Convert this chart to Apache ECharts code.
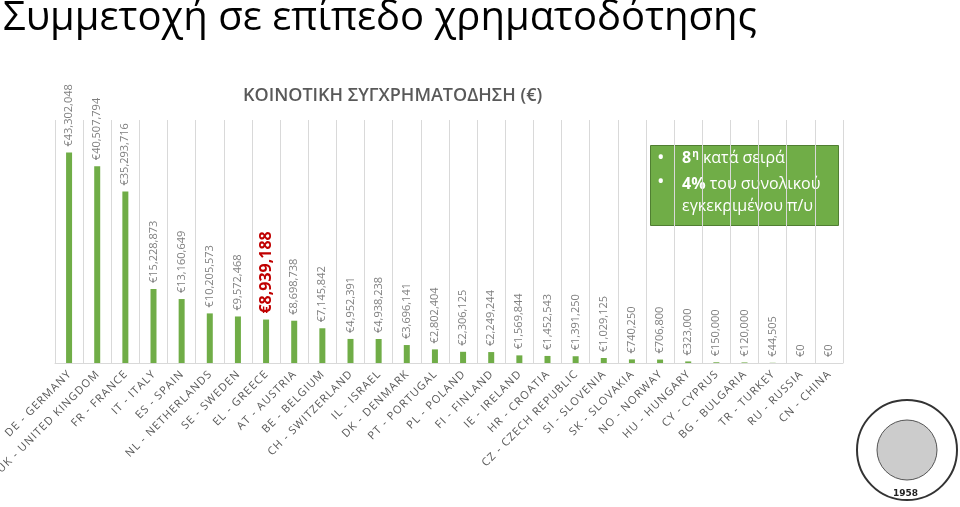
<!DOCTYPE html>
<html><head><meta charset="utf-8">
<script src="https://cdn.jsdelivr.net/npm/echarts@6/dist/echarts.min.js"></script>
<style>html,body{margin:0;background:#fff}#c{width:960px;height:507px}</style>
</head><body><div id="c"></div>
<script>
// κοινοτική συγχρηματοδότηση ανά χώρα
const countries = ['DE - GERMANY','UK - UNITED KINGDOM','FR - FRANCE','IT - ITALY','ES - SPAIN','NL - NETHERLANDS','SE - SWEDEN','EL - GREECE','AT - AUSTRIA','BE - BELGIUM','CH - SWITZERLAND','IL - ISRAEL','DK - DENMARK','PT - PORTUGAL','PL - POLAND','FI - FINLAND','IE - IRELAND','HR - CROATIA','CZ - CZECH REPUBLIC','SI - SLOVENIA','SK - SLOVAKIA','NO - NORWAY','HU - HUNGARY','CY - CYPRUS','BG - BULGARIA','TR - TURKEY','RU - RUSSIA','CN - CHINA'];
const funding = [43302048,40507794,35293716,15228873,13160649,10205573,9572468,8939188,8698738,7145842,4952391,4938238,3696141,2802404,2306125,2249244,1569844,1452543,1391250,1029125,740250,706800,323000,150000,120000,44505,0,0];
const highlight = 'EL - GREECE';

const chart = echarts.init(document.getElementById('c'));
chart.setOption({
  animation: false,
  title: [
    { text: 'Συμμετοχή σε επίπεδο χρηματοδότησης', left: -2, top: -6,
      textStyle: { fontFamily: 'Open Sans', fontSize: 40, fontWeight: 400, color: '#000' } },
    { text: 'ΚΟΙΝΟΤΙΚΗ ΣΥΓΧΡΗΜΑΤΟΔΗΣΗ (€)', left: 238, top: 82,
      textStyle: { fontFamily: 'Open Sans', fontSize: 18, fontWeight: 600, color: '#595959' } }
  ],
  grid: { left: 55, right: 117, top: 120, bottom: 144, containLabel: false, outerBoundsMode: 'none' },
  xAxis: {
    type: 'category', data: countries,
    axisLine: { lineStyle: { color: '#d9d9d9' } },
    axisTick: { show: false },
    splitLine: { show: true, lineStyle: { color: '#d9d9d9' } },
    axisLabel: { interval: 0, rotate: 45, color: '#595959', fontFamily: 'Open Sans', fontSize: 11, margin: 10,
      formatter: v => v.split('').join('\u200A') }
  },
  yAxis: { type: 'value', min: 0, max: 50000000, show: false, splitLine: { show: false } },
  series: [{
    type: 'bar', barWidth: 6,
    itemStyle: { color: '#70AD47' },
    data: funding.map((v, i) => countries[i] === highlight ? {
      value: v,
      label: { color: '#C00000', fontSize: 16, fontWeight: 'bold' }
    } : v),
    label: {
      show: true, position: 'top', rotate: 90, align: 'left', verticalAlign: 'middle', distance: 6,
      color: '#7f7f7f', fontFamily: 'Open Sans', fontSize: 11,
      formatter: p => '€' + p.value.toLocaleString('en-US')
    }
  }],
  graphic: [
    { type: 'rect', left: 650, top: 145, shape: { width: 188, height: 80 },
      style: { fill: '#70AD47', stroke: '#507e32', lineWidth: 1 } },
    { type: 'text', left: 657, top: 148, style: { text: '•', fill: '#fff', font: '20px Open Sans' } },
    { type: 'text', left: 682, top: 149, style: {
      text: '{b|8}{s|η} κατά σειρά', fill: '#fff', font: '16px Open Sans',
      rich: { b: { fill: '#fff', fontSize: 16, fontWeight: 'bold', fontFamily: 'Open Sans' },
              s: { fill: '#fff', fontSize: 10, fontWeight: 'bold', verticalAlign: 'top', padding: [0, 0, 8, 1], fontFamily: 'Open Sans' } } } },
    { type: 'text', left: 657, top: 172, style: { text: '•', fill: '#fff', font: '20px Open Sans' } },
    { type: 'text', left: 682, top: 173, style: {
      text: '{b|4%} του συνολικού\nεγκεκριμένου π/υ', fill: '#fff', font: '16px Open Sans', lineHeight: 22,
      rich: { b: { fill: '#fff', fontSize: 16, fontWeight: 'bold', fontFamily: 'Open Sans' } } } },
    { type: 'circle', shape: { cx: 907, cy: 450, r: 50 }, style: { fill: '#fff', stroke: '#333', lineWidth: 2 } },
    { type: 'circle', shape: { cx: 907, cy: 450, r: 30 }, style: { fill: '#ccc', stroke: '#555', lineWidth: 1 } },
    { type: 'text', left: 893, top: 489, style: { text: '1958', fill: '#222', font: 'bold 9px DejaVu Sans' } }
  ]
});
</script></body></html>
